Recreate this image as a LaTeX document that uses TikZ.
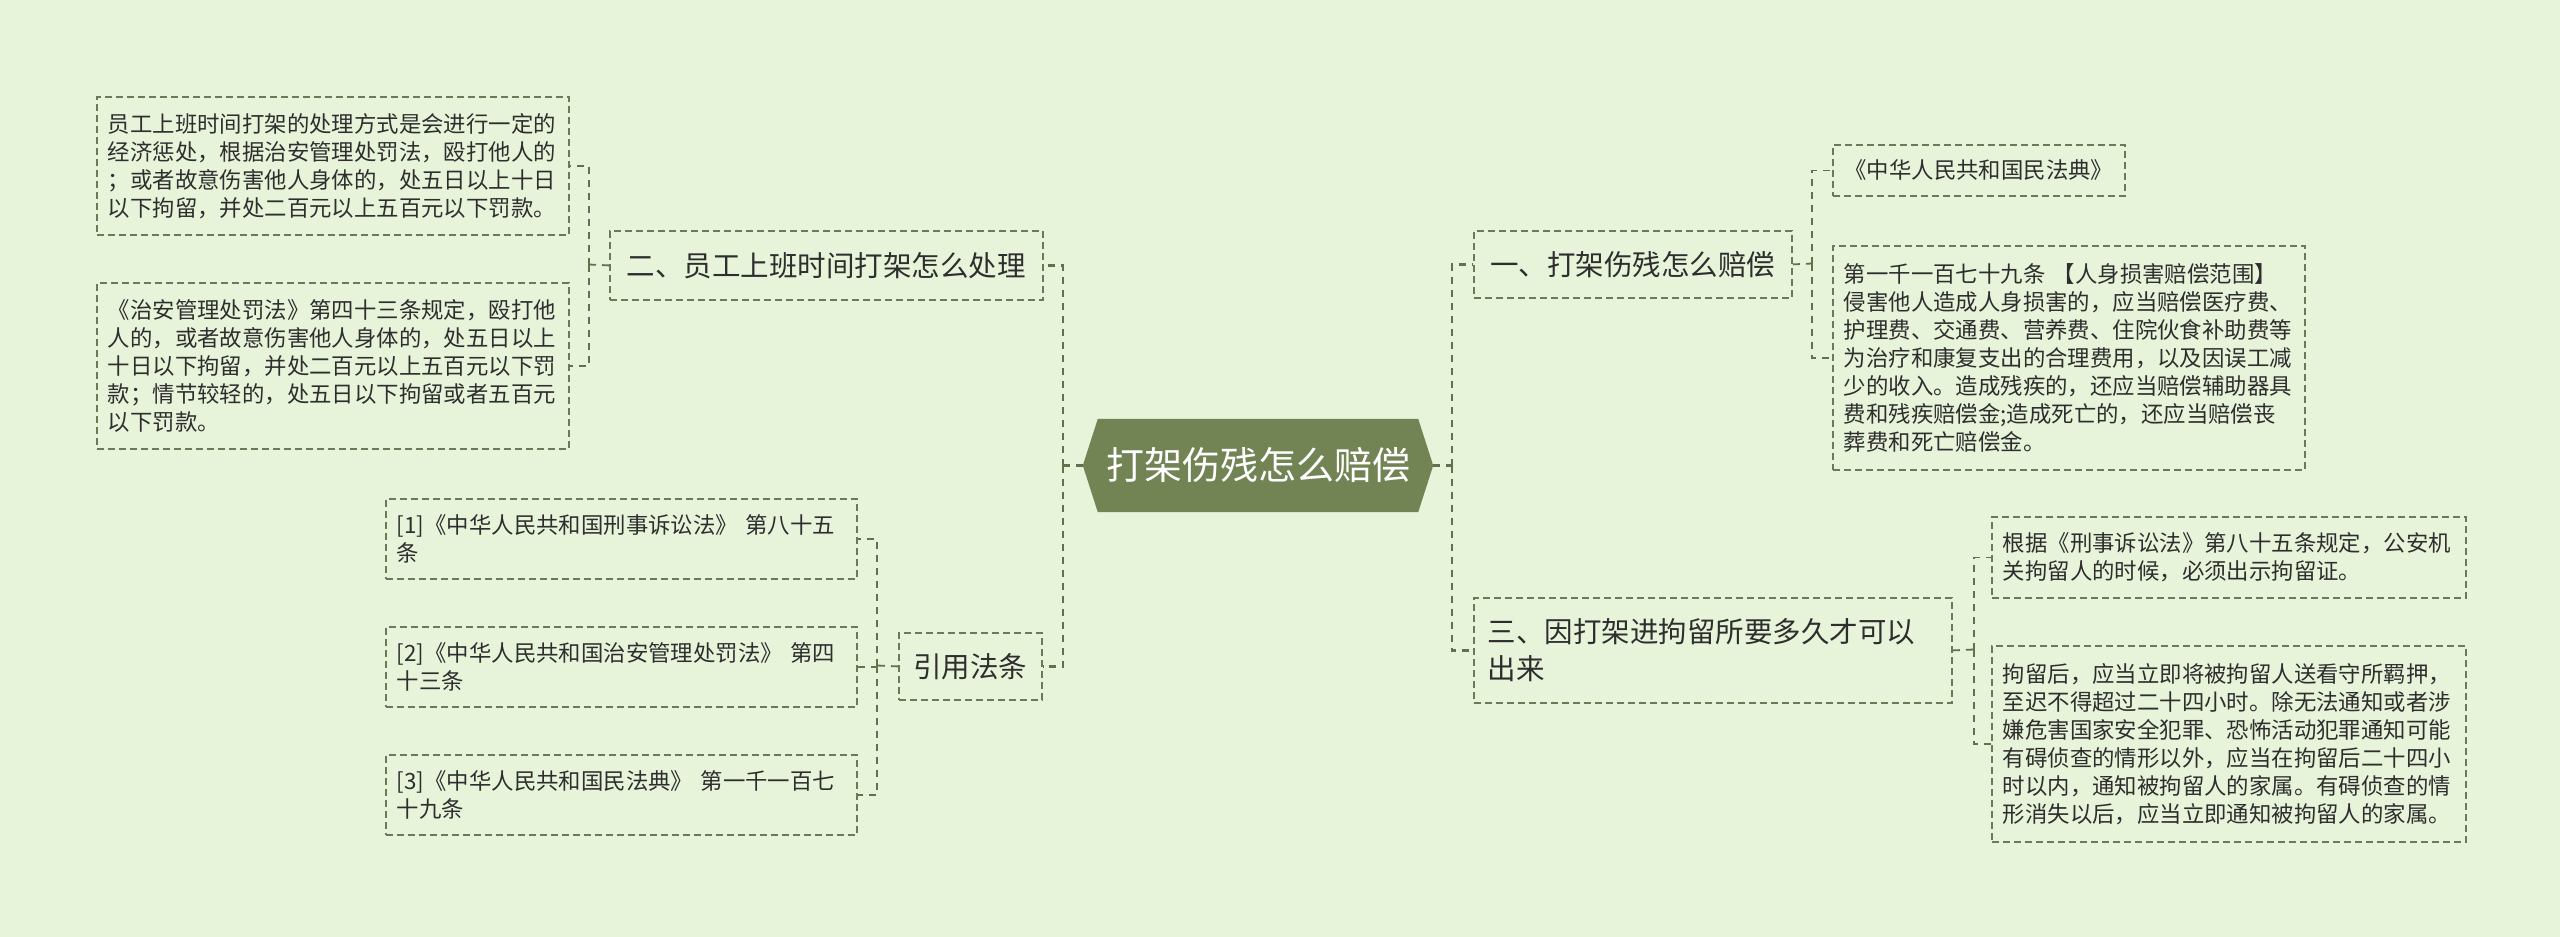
\documentclass[tikz,border=0pt]{standalone}
\usepackage{fontspec}
\setmainfont{Noto Sans CJK SC}
\usetikzlibrary{backgrounds}
\definecolor{bgc}{HTML}{E8F4DA}
\definecolor{lc}{HTML}{6B7956}
\definecolor{cc}{HTML}{62704D}
\definecolor{tc}{HTML}{2E2E2E}
\definecolor{rootc}{HTML}{728354}
\tikzset{
  box/.style={draw=lc, line width=1.8pt, dash pattern=on 7pt off 4pt, text=tc, inner ysep=0pt, anchor=north west},
  leaf/.style={box, font=\fontsize{22.4}{28}\selectfont, align=left, inner xsep=11pt},
  head/.style={box, font=\fontsize{28.5}{37}\selectfont, align=left, inner xsep=14pt},
  conn/.style={draw=cc, line width=2.6pt, dash pattern=on 7pt off 6pt},
}
\begin{document}
\begin{tikzpicture}[x=1pt,y=-1pt]
\useasboundingbox (0,0) rectangle (2560,937);
\begin{pgfonlayer}{background}
\fill[bgc] (0,0) rectangle (2560,937);
\end{pgfonlayer}

% root
\node[minimum width=350pt, minimum height=93pt, inner sep=0pt, text=white, font=\fontsize{38}{44}\selectfont] (root) at (1258,465.5) {打架伤残怎么赔偿};
\begin{pgfonlayer}{background}
\fill[rootc] (root.west) -- ([xshift=15pt]root.north west) -- ([xshift=-15pt]root.north east) -- (root.east) -- ([xshift=-15pt]root.south east) -- ([xshift=15pt]root.south west) -- cycle;
\end{pgfonlayer}

% left side
\node[head, minimum width=433pt, minimum height=69pt] (n2) at (609,230) {二、员工上班时间打架怎么处理};
\node[leaf, minimum width=472pt, minimum height=138pt, text width=450pt] (A) at (96,96) {员工上班时间打架的处理方式是会进行一定的\\经济惩处，根据治安管理处罚法，殴打他人的\\；或者故意伤害他人身体的，处五日以上十日\\以下拘留，并处二百元以上五百元以下罚款。};
\node[leaf, minimum width=472pt, minimum height=166pt, text width=450pt] (B) at (96,282) {《治安管理处罚法》第四十三条规定，殴打他\\人的，或者故意伤害他人身体的，处五日以上\\十日以下拘留，并处二百元以上五百元以下罚\\款；情节较轻的，处五日以下拘留或者五百元\\以下罚款。};

\node[head, minimum width=143pt, minimum height=67pt, inner xsep=12pt] (yin) at (898,632) {引用法条};
\node[leaf, minimum width=471pt, minimum height=80pt, text width=449pt] (L1) at (385,498) {[1]《中华人民共和国刑事诉讼法》 第八十五\\条};
\node[leaf, minimum width=471pt, minimum height=80pt, text width=449pt] (L2) at (385,626) {[2]《中华人民共和国治安管理处罚法》 第四\\十三条};
\node[leaf, minimum width=471pt, minimum height=80pt, text width=449pt] (L3) at (385,754) {[3]《中华人民共和国民法典》 第一千一百七\\十九条};

% right side
\node[head, minimum width=318pt, minimum height=67pt] (n1) at (1473,230) {一、打架伤残怎么赔偿};
\node[leaf, minimum width=292pt, minimum height=51pt] (R1a) at (1832,144) {《中华人民共和国民法典》};
\node[leaf, minimum width=472pt, minimum height=224pt, text width=450pt] (R1b) at (1832,245) {第一千一百七十九条 【人身损害赔偿范围】\\侵害他人造成人身损害的，应当赔偿医疗费、\\护理费、交通费、营养费、住院伙食补助费等\\为治疗和康复支出的合理费用，以及因误工减\\少的收入。造成残疾的，还应当赔偿辅助器具\\费和残疾赔偿金;造成死亡的，还应当赔偿丧\\葬费和死亡赔偿金。};

\node[head, minimum width=478pt, minimum height=105pt, text width=450pt] (n3) at (1473,597) {三、因打架进拘留所要多久才可以\\出来};
\node[leaf, minimum width=474pt, minimum height=81pt, text width=452pt] (R3a) at (1991,516) {根据《刑事诉讼法》第八十五条规定，公安机\\关拘留人的时候，必须出示拘留证。};
\node[leaf, minimum width=474pt, minimum height=196pt, text width=452pt] (R3b) at (1991,645) {拘留后，应当立即将被拘留人送看守所羁押，\\至迟不得超过二十四小时。除无法通知或者涉\\嫌危害国家安全犯罪、恐怖活动犯罪通知可能\\有碍侦查的情形以外，应当在拘留后二十四小\\时以内，通知被拘留人的家属。有碍侦查的情\\形消失以后，应当立即通知被拘留人的家属。};

% connector junctions
\coordinate (cl) at (1063,465.5);
\coordinate (cr) at (1452,465.5);
\coordinate (c2) at (589,264.5);
\coordinate (cy) at (877,665.5);
\coordinate (c1) at (1812,263.5);
\coordinate (c3) at (1974,649.5);

\draw[conn] (root.west) -- (cl);
\draw[conn] (cl) |- (n2.east);
\draw[conn] (cl) |- (yin.east);
\draw[conn] (root.east) -- (cr);
\draw[conn] (cr) |- (n1.west);
\draw[conn] (cr) |- (n3.west);

\draw[conn, line width=1.8pt] (n2.west) -- (c2);
\draw[conn, line width=1.8pt] (c2) |- (A.east);
\draw[conn, line width=1.8pt] (c2) |- (B.east);

\draw[conn, line width=1.8pt] (yin.west) -- (cy);
\draw[conn, line width=1.8pt] (cy) |- (L1.east);
\draw[conn, line width=1.8pt] (cy) |- (L2.east);
\draw[conn, line width=1.8pt] (cy) |- (L3.east);

\draw[conn, line width=1.8pt] (n1.east) -- (c1);
\draw[conn, line width=1.8pt] (c1) |- (R1a.west);
\draw[conn, line width=1.8pt] (c1) |- (R1b.west);

\draw[conn, line width=1.8pt] (n3.east) -- (c3);
\draw[conn, line width=1.8pt] (c3) |- (R3a.west);
\draw[conn, line width=1.8pt] (c3) |- (R3b.west);
\end{tikzpicture}
\end{document}
